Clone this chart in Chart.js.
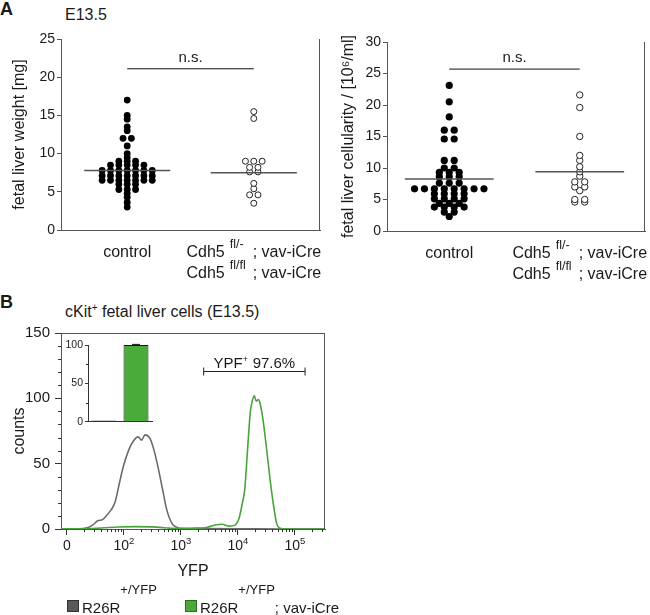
<!DOCTYPE html>
<html>
<head>
<meta charset="utf-8">
<script src="https://cdn.jsdelivr.net/npm/chart.js@4.4.0/dist/chart.umd.min.js"></script>
<style>
  html, body { margin: 0; padding: 0; background: #fff; }
  body { width: 650px; height: 615px; position: relative; overflow: hidden;
         font-family: "Liberation Sans", Arial, sans-serif; color: #1a1a1a; }
  canvas { position: absolute; }
  .txt { position: absolute; white-space: nowrap; line-height: 1; }
  .sq { position: absolute; width: 12px; height: 12px; box-sizing: border-box; }
</style>
</head>
<body>
<div class="txt" style="left:0;top:0;font-size:18px;font-weight:bold">A</div>
<div class="txt" style="left:65px;top:7px;font-size:16px">E13.5</div>
<div class="txt" style="left:0;top:293px;font-size:18px;font-weight:bold">B</div>
<div class="txt" style="left:65px;top:304px;font-size:16px">cKit<span style="font-size:10px;position:relative;top:-6px">+</span> fetal liver cells (E13.5)</div>

<canvas id="weight" width="325" height="290" style="left:0;top:0"></canvas>
<canvas id="cells" width="325" height="290" style="left:325px;top:0"></canvas>
<canvas id="yfp" width="330" height="300" style="left:0;top:290px"></canvas>
<canvas id="inset" width="100" height="95" style="left:60px;top:335px"></canvas>

<div class="sq" style="left:67px;top:600px;background:#595959;border:1px solid #333"></div>
<div class="txt" style="left:82px;top:600px;font-size:15px">R26R<span style="font-size:13px;position:relative;top:-19px">+/YFP</span></div>
<div class="sq" style="left:185px;top:600px;background:#4aab3b;border:1px solid #2b6e22"></div>
<div class="txt" style="left:200px;top:600px;font-size:15px">R26R<span style="font-size:13px;position:relative;top:-19px">+/YFP</span>; vav-iCre</div>

<script>
// panel A: fetal liver weight [mg]
const weightControl = [17, 15, 14.5, 13.5, 13, 12, 12, 11, 10, 9.5, 9, 9, 9,
  8.5, 8.5, 8.5, 8.5, 8.5, 7.8, 7.8, 7.8, 7.8, 7.8, 7.8, 7.8,
  7.1, 7.1, 7.1, 7.1, 7.1, 7.1, 7.1, 6.5, 6.5, 6.5, 6.5, 6.5, 6.5, 6.5,
  6, 6, 6, 5.3, 5.3, 5.3, 4.8, 4.3, 3.6, 3];
const weightCdh5 = [15.5, 14.6, 9, 9, 9, 8.2, 8.2, 7.6, 7.6, 6.1, 5.4, 4.6, 4.6, 3.5];
const weightMeans = [7.8, 7.5];
const weightBracket = 21.1;

// panel A: fetal liver cellularity [10^6/ml]
const cellControl = [23.1, 20.5, 18.1, 16, 16, 14.6, 14.6, 11.2, 11.2, 10, 10,
  9.3, 9.3, 9.3, 8.6, 8.6, 8.6, 7.6, 7.6, 7.6,
  6.7, 6.7, 6.7, 6.7, 6.7, 6.7, 6.7, 6.7, 5.9, 5.9, 5.9, 5.9,
  5.1, 5.1, 5.1, 5.1, 4.4, 4.4, 4.4, 3.8, 3.8, 3.8, 3.8, 3, 3, 2.3];
const cellCdh5 = [21.6, 19.6, 15, 12, 11.2, 10.2, 9.4, 8.7, 7.8, 7.8, 7, 7, 6.4, 5, 5, 4.6, 4.6];
const cellMeans = [8.25, 9.4];
const cellBracket = 25.7;

const groupLabel = "control";
const cdhLines = [["Cdh5", "fl/-", "; vav-iCre"], ["Cdh5", "fl/fl", "; vav-iCre"]];
const sigLabel = "n.s.";

// panel B: histogram, x in decades of the logicle YFP axis
const yfpTicks = [1, 2, 3, 4, 5];
const yfpTickLabels = [["0", ""], ["10", "2"], ["10", "3"], ["10", "4"], ["10", "5"]];
const grayX = [0.9, 1.2, 1.32, 1.45, 1.55, 1.62, 1.7, 1.78, 1.84, 1.92, 1.99, 2.08, 2.16,
  2.25, 2.31, 2.37, 2.46, 2.53, 2.6, 2.68, 2.75, 2.84, 2.92, 3.0, 3.4, 4.0, 4.8, 5.53];
const grayY = [0, 0, 0.5, 3, 6.5, 7, 10.5, 15, 20, 35, 48, 60, 67,
  70.5, 68, 72, 69, 60, 47, 30, 15, 4.5, 1.4, 0.5, 0.3, 0.2, 0, 0];
const greenX = [0.9, 1.3, 1.6, 1.9, 2.2, 2.5, 2.7, 2.9, 3.2, 3.45, 3.62, 3.72, 3.85, 3.95,
  4.02, 4.08, 4.12, 4.18, 4.22, 4.26, 4.29, 4.32, 4.36, 4.39, 4.44, 4.5, 4.56, 4.62,
  4.68, 4.74, 4.85, 5.53];
const greenY = [0, 0.3, 0.8, 1.5, 1.8, 1.6, 1.0, 0.4, 0.6, 1.2, 3.2, 3.6, 2.2, 3.0,
  8, 20, 30, 67, 90, 99, 102, 98, 99, 96, 84, 63, 40, 20,
  4.6, 0.5, 0, 0];
const gateRange = [3.4, 5.18];
const gateLevel = 121;

// inset: % YFP+
const insetGroups = ["R26R+/YFP", "R26R+/YFP; vav-iCre"];
const insetValues = [1.5, 100];
const insetErrors = [0, 0.8];

const family = '"Liberation Sans", Arial, sans-serif';
Chart.defaults.font.family = family;
Chart.defaults.color = "#1a1a1a";
const axisColor = "#555";


// spread points of equal value side by side, like a column scatter
function swarm(values, center, gap) {
  const rows = {};
  values.forEach((v) => {
    const k = Math.round(v * 10);
    (rows[k] = rows[k] || []).push(v);
  });
  const pts = [];
  Object.values(rows).forEach((r) =>
    r.forEach((v, i) => pts.push({ x: center + (i - (r.length - 1) / 2) * gap, y: v }))
  );
  return pts;
}


function richText(ctx, parts, x, base) {
  const widths = parts.map((p) => {
    ctx.font = p.size + "px " + family;
    return ctx.measureText(p.t).width + (p.gap || 0);
  });
  let cx = x - widths.reduce((s, w) => s + w, 0) / 2;
  ctx.textAlign = "left";
  ctx.textBaseline = "alphabetic";
  parts.forEach((p, i) => {
    ctx.font = p.size + "px " + family;
    ctx.fillText(p.t, cx, base - (p.rise || 0));
    cx += widths[i];
  });
}


const frame = {
  id: "frame",
  afterDraw(chart, args, o) {
    const { ctx, chartArea: a } = chart;
    ctx.save();
    ctx.strokeStyle = o.color || axisColor;
    ctx.lineWidth = 1;
    ctx.beginPath();
    if (o.top) { ctx.moveTo(a.left, a.top + 0.5); ctx.lineTo(a.right, a.top + 0.5); }
    if (o.right) { ctx.moveTo(a.right - 0.5, a.top); ctx.lineTo(a.right - 0.5, a.bottom); }
    ctx.stroke();
    ctx.restore();
  },
};

const minorTicks = {
  id: "minorTicks",
  afterDraw(chart, args, o) {
    const { ctx, chartArea: a, scales } = chart;
    ctx.save();
    ctx.strokeStyle = o.color || "#333";
    ctx.lineWidth = 1;
    ctx.beginPath();
    (o.x || []).forEach((v) => {
      const p = Math.round(scales.x.getPixelForValue(v)) + 0.5;
      ctx.moveTo(p, a.bottom);
      ctx.lineTo(p, a.bottom + o.len);
    });
    (o.y || []).forEach((v) => {
      const p = Math.round(scales.y.getPixelForValue(v)) + 0.5;
      ctx.moveTo(a.left, p);
      ctx.lineTo(a.left - o.len, p);
    });
    ctx.stroke();
    ctx.restore();
  },
};

const groupText = {
  id: "groupText",
  afterDraw(chart, args, o) {
    const { ctx, chartArea: a, scales: { x, y } } = chart;
    ctx.save();
    ctx.fillStyle = "#1a1a1a";
    ctx.textBaseline = "alphabetic";
    ctx.textAlign = "center";
    ctx.font = "15px " + family;
    ctx.fillText(sigLabel, x.getPixelForValue(0.5), y.getPixelForValue(o.bracket) - 7);
    ctx.font = "16px " + family;
    ctx.fillText(groupLabel, x.getPixelForValue(0), a.bottom + 27);

    // two-line genotype label with superscripts
    ctx.textAlign = "left";
    ctx.font = "16px " + family;
    const wBase = ctx.measureText(cdhLines[0][0]).width;
    const wTail = ctx.measureText(cdhLines[0][2]).width;
    ctx.font = "12.5px " + family;
    const wSup = Math.max(...cdhLines.map((l) => ctx.measureText(l[1]).width));
    const total = wBase + 5 + wSup + 7 + wTail;
    const left = x.getPixelForValue(1) - total / 2;
    cdhLines.forEach((l, i) => {
      const base = a.bottom + 27 + i * 21;
      ctx.font = "16px " + family;
      ctx.fillText(l[0], left, base);
      ctx.fillText(l[2], left + wBase + 5 + wSup + 7, base);
      ctx.font = "12.5px " + family;
      ctx.fillText(l[1], left + wBase + 5, base - 9);
    });
    ctx.restore();
  },
};


function dotPlot(id, cfg) {
  const meanSets = cfg.means.map((m, i) => ({
    data: [{ x: i - 0.34, y: m }, { x: i + 0.34, y: m }],
    showLine: true, borderColor: "#555", borderWidth: 1.5, pointRadius: 0,
  }));
  return new Chart(document.getElementById(id), {
    type: "scatter",
    data: {
      datasets: [
        ...meanSets,
        {
          data: [{ x: 0, y: cfg.bracket }, { x: 1, y: cfg.bracket }],
          showLine: true, borderColor: "#111", borderWidth: 1, pointRadius: 0,
        },
        {
          data: swarm(cfg.control, 0, cfg.gap),
          pointRadius: cfg.dot, backgroundColor: "#000", borderColor: "#000", borderWidth: 0,
        },
        {
          data: swarm(cfg.cdh, 1, cfg.gap),
          pointRadius: cfg.dot - 0.4, backgroundColor: "#fff", borderColor: "#222", borderWidth: 1,
        },
      ],
    },
    options: {
      responsive: false,
      animation: false,
      events: [],
      layout: { padding: { top: cfg.top, right: 2, left: 0, bottom: 0 } },
      plugins: {
        legend: { display: false },
        tooltip: { enabled: false },
        frame: { right: true },
        groupText: { bracket: cfg.bracket },
      },
      scales: {
        x: {
          type: "linear", min: cfg.xMin, max: cfg.xMax,
          ticks: { display: false },
          grid: { display: false },
          border: { color: axisColor },
          afterFit: (s) => { s.height = cfg.xHeight; },
        },
        y: {
          min: 0, max: cfg.yMax,
          ticks: { stepSize: 5, font: { size: 14 }, padding: 2 },
          grid: { drawOnChartArea: false, tickLength: 4, tickColor: axisColor },
          border: { color: axisColor },
          title: { display: true, text: cfg.title, font: { size: 16 }, padding: { top: cfg.titlePad, bottom: 0 } },
          afterFit: (s) => { s.width = cfg.yWidth; },
        },
      },
    },
    plugins: [frame, groupText],
  });
}


dotPlot("weight", {
  control: weightControl, cdh: weightCdh5, means: weightMeans, bracket: weightBracket,
  title: "fetal liver weight [mg]", yMax: 25,
  top: 39, yWidth: 61, xHeight: 60, xMin: -0.523, xMax: 1.523, gap: 0.066, dot: 3.4, titlePad: 10,
});

dotPlot("cells", {
  control: cellControl, cdh: cellCdh5, means: cellMeans, bracket: cellBracket,
  title: "fetal liver cellularity / [10\u2076/ml]", yMax: 30,
  top: 42, yWidth: 62, xHeight: 59, xMin: -0.477, xMax: 1.5, gap: 0.076, dot: 3.6, titlePad: 13.5,
});


const yfpMinor = [];
for (let n = 1; n <= 5; n++) {
  for (let k = 2; k <= 9; k++) {
    const v = n + Math.log10(k);
    if (v < 5.53) yfpMinor.push(v);
  }
}

const yfpLabels = {
  id: "yfpLabels",
  afterDraw(chart) {
    const { ctx, chartArea: a, scales: { x, y } } = chart;
    ctx.save();
    ctx.fillStyle = "#1a1a1a";
    yfpTicks.forEach((v, i) => {
      const [base, exp] = yfpTickLabels[i];
      const parts = [{ t: base, size: 14 }];
      if (exp) parts.push({ t: exp, size: 9.5, rise: 6 });
      richText(ctx, parts, x.getPixelForValue(v), a.bottom + 21);
    });

    // YFP+ gate
    const x0 = x.getPixelForValue(gateRange[0]);
    const x1 = x.getPixelForValue(gateRange[1]);
    const py = Math.round(y.getPixelForValue(gateLevel)) + 0.5;
    ctx.strokeStyle = "#222";
    ctx.lineWidth = 1;
    ctx.beginPath();
    ctx.moveTo(x0, py); ctx.lineTo(x1, py);
    ctx.moveTo(x0, py - 4); ctx.lineTo(x0, py + 4);
    ctx.moveTo(x1, py - 4); ctx.lineTo(x1, py + 4);
    ctx.stroke();
    richText(ctx, [{ t: "YPF", size: 15 }, { t: "+", size: 9, rise: 6, gap: 0.5 }, { t: " 97.6%", size: 15 }],
      (x0 + x1) / 2, py - 4);
    ctx.restore();
  },
};

new Chart(document.getElementById("yfp"), {
  type: "scatter",
  data: {
    datasets: [
      {
        data: greenX.map((v, i) => ({ x: v, y: greenY[i] })),
        showLine: true, borderColor: "#48a43a", borderWidth: 1.6, pointRadius: 0,
        cubicInterpolationMode: "monotone",
      },
      {
        data: grayX.map((v, i) => ({ x: v, y: grayY[i] })),
        showLine: true, borderColor: "#6b6b6b", borderWidth: 1.6, pointRadius: 0,
        cubicInterpolationMode: "monotone",
      },
    ],
  },
  options: {
    responsive: false,
    animation: false,
    events: [],
    layout: { padding: { top: 43, right: 5, left: 0, bottom: 0 } },
    plugins: {
      legend: { display: false },
      tooltip: { enabled: false },
      frame: { top: true, right: true },
      minorTicks: { x: yfpMinor, y: [10, 20, 30, 40, 60, 70, 80, 90, 110, 120, 130, 140], len: 3 },
    },
    scales: {
      x: {
        type: "linear", min: 0.895, max: 5.53,
        afterBuildTicks: (s) => { s.ticks = yfpTicks.map((v) => ({ value: v })); },
        ticks: { callback: () => "", autoSkip: false },
        grid: { drawOnChartArea: false, tickLength: 6, tickColor: "#333" },
        border: { color: axisColor },
        title: { display: true, text: "YFP", font: { size: 16 }, padding: { top: 0, bottom: 9 } },
        afterFit: (s) => { s.height = 61; },
      },
      y: {
        min: 0, max: 150,
        ticks: { stepSize: 50, font: { size: 15 }, padding: 5 },
        grid: { drawOnChartArea: false, tickLength: 6, tickColor: "#333" },
        border: { color: axisColor },
        title: { display: true, text: "counts", font: { size: 16 }, padding: { top: 10, bottom: 0 } },
        afterFit: (s) => { s.width = 61; },
      },
    },
  },
  plugins: [frame, minorTicks, yfpLabels],
});


const errorCaps = {
  id: "errorCaps",
  afterDatasetsDraw(chart) {
    const { ctx, scales: { y } } = chart;
    const bars = chart.getDatasetMeta(0).data;
    ctx.save();
    ctx.strokeStyle = "#111";
    ctx.lineWidth = 1;
    ctx.beginPath();
    insetErrors.forEach((e, i) => {
      if (!e) return;
      const cx = bars[i].x;
      const top = y.getPixelForValue(insetValues[i] + e);
      ctx.moveTo(cx, y.getPixelForValue(insetValues[i]));
      ctx.lineTo(cx, top);
      ctx.moveTo(cx - 4, top);
      ctx.lineTo(cx + 4, top);
    });
    ctx.stroke();
    ctx.restore();
  },
};

new Chart(document.getElementById("inset"), {
  type: "bar",
  data: {
    labels: insetGroups,
    datasets: [{
      data: insetValues,
      backgroundColor: ["#333", "#4aab3b"],
      borderColor: "#111",
      borderWidth: 1,
      categoryPercentage: 1,
      barPercentage: 0.78,
    }],
  },
  options: {
    responsive: false,
    animation: false,
    events: [],
    layout: { padding: { top: 10, right: 8, left: 0, bottom: 0 } },
    plugins: {
      legend: { display: false },
      tooltip: { enabled: false },
      minorTicks: { y: [25, 75], len: 2 },
    },
    scales: {
      x: {
        ticks: { display: false },
        grid: { display: false },
        border: { color: "#333" },
        afterFit: (s) => { s.height = 8; },
      },
      y: {
        min: 0, max: 100,
        ticks: { stepSize: 50, font: { size: 10.5 }, padding: 2 },
        grid: { drawOnChartArea: false, tickLength: 3, tickColor: "#333" },
        border: { color: "#333" },
        afterFit: (s) => { s.width = 28; },
      },
    },
  },
  plugins: [minorTicks, errorCaps],
});
</script>
</body>
</html>
